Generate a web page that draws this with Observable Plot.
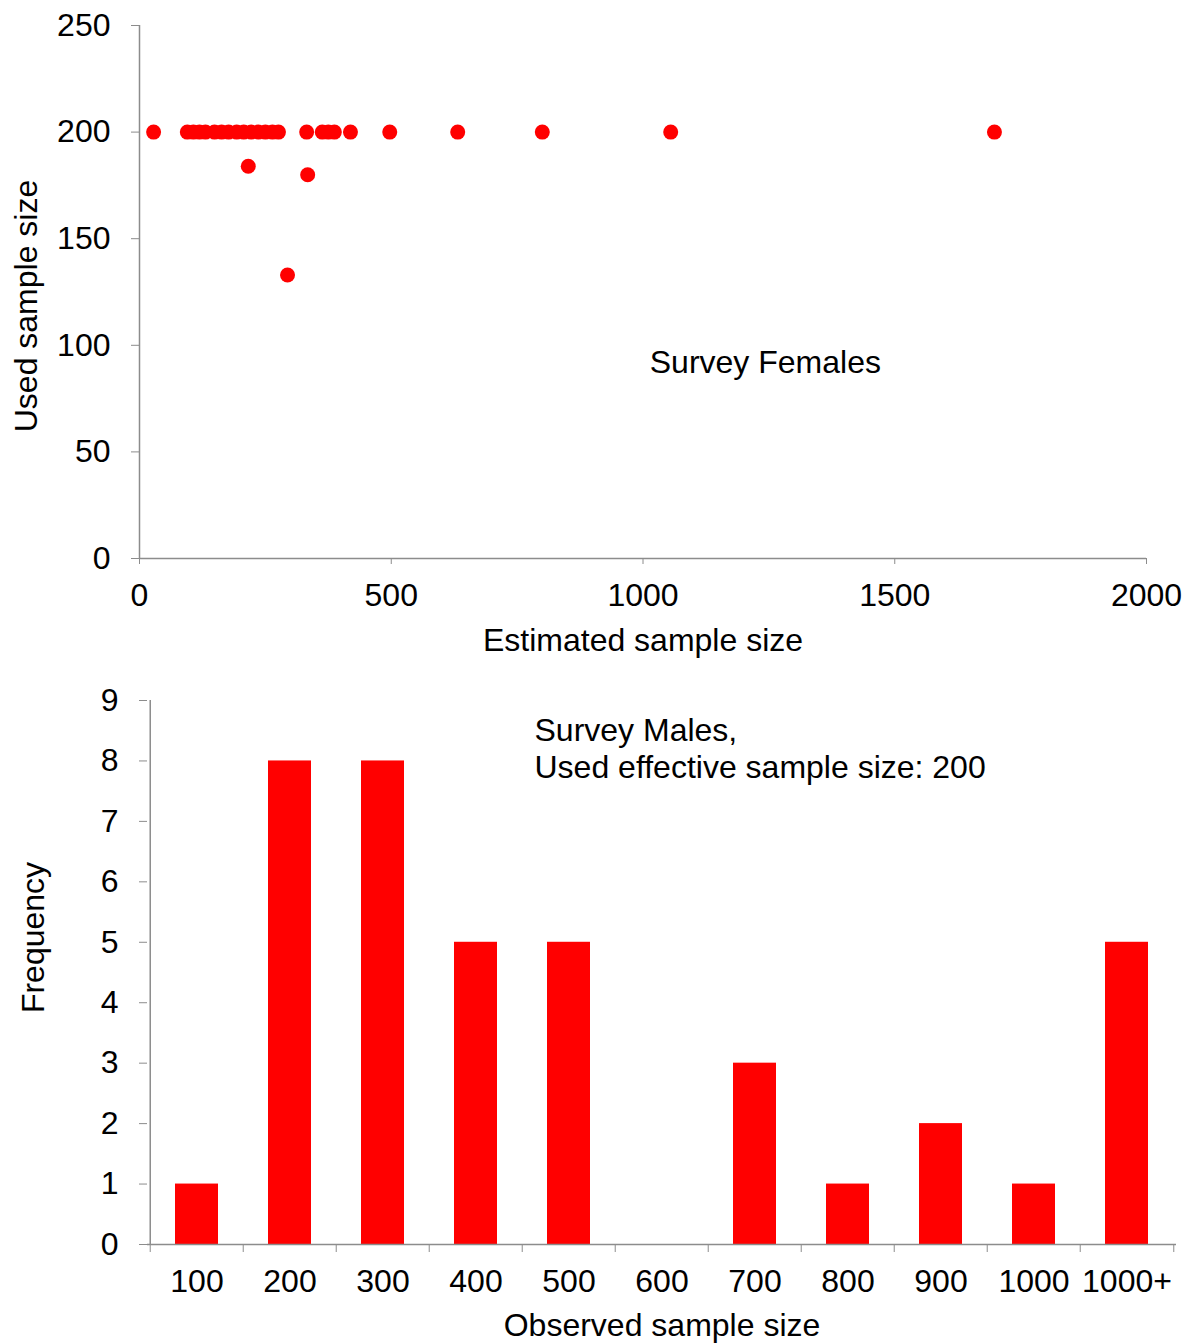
<!DOCTYPE html>
<html>
<head>
<meta charset="utf-8">
<script src="https://cdn.jsdelivr.net/npm/d3@7"></script>
<script src="https://cdn.jsdelivr.net/npm/@observablehq/plot@0.6"></script>
<style>
  html, body { margin: 0; padding: 0; background: #ffffff; }
  #chart { width: 1188px; }
  #chart svg { display: block; }
</style>
</head>
<body>
<div id="chart"></div>
<script>
// ---- Top panel: Survey Females (scatter) ----
const femalesEstimated = [28, 95, 107, 119, 131, 149, 163, 177, 193, 207, 222, 236, 250, 264, 276,
                          332, 363, 375, 387, 419, 497, 632, 800, 1055, 1698, 216, 334, 294];
const femalesUsed      = [200, 200, 200, 200, 200, 200, 200, 200, 200, 200, 200, 200, 200, 200, 200,
                          200, 200, 200, 200, 200, 200, 200, 200, 200, 200, 184, 180, 133];
const topXTicks = [0, 500, 1000, 1500, 2000];
const topYTicks = [0, 50, 100, 150, 200, 250];
const topLabelX = "Estimated sample size";
const topLabelY = "Used sample size";
const topNote = "Survey Females";
const topNoteX = [1243];
const topNoteY = [92];

// ---- Bottom panel: Survey Males (histogram) ----
const maleBins = ["100", "200", "300", "400", "500", "600", "700", "800", "900", "1000", "1000+"];
const maleFreq = [1, 8, 8, 5, 5, 0, 3, 1, 2, 1, 5];
const bottomYTicks = [0, 1, 2, 3, 4, 5, 6, 7, 8, 9];
const bottomLabelX = "Observed sample size";
const bottomLabelY = "Frequency";
const bottomNote1 = "Survey Males,";
const bottomNote2 = "Used effective sample size: 200";

const RED = "#ff0000";
const AXIS = "#8c8c8c";
const FONT = "'Liberation Sans', Arial, sans-serif";
const FS = 32;

const females = femalesEstimated.map((x, i) => ({x, y: femalesUsed[i]}));
const males = maleBins.map((b, i) => ({bin: b, n: maleFreq[i]}));

const topChart = Plot.plot({
  width: 1188, height: 665,
  marginLeft: 139, marginRight: 42, marginTop: 25, marginBottom: 107,
  style: {fontFamily: FONT, fontSize: FS + "px", color: "#000", background: "#fff", overflow: "visible"},
  x: {domain: [0, 2000]},
  y: {domain: [0, 250]},
  marks: [
    Plot.ruleX([0], {stroke: AXIS, strokeWidth: 1.5}),
    Plot.ruleY([0], {stroke: AXIS, strokeWidth: 1.5}),
    Plot.axisX({ticks: topXTicks, tickSize: 6, tickPadding: 19, stroke: AXIS, tickFormat: d => String(d), label: null, fontSize: FS}),
    Plot.axisY({ticks: topYTicks, tickSize: 8, tickPadding: 21, stroke: AXIS, tickFormat: d => String(d), label: null, fontSize: FS}),
    Plot.dot(females, {x: "x", y: "y", r: 7.5, fill: RED, stroke: "none"}),
    Plot.text([topNote], {x: () => topNoteX[0], y: () => topNoteY[0], text: d => d, fontSize: FS, fill: "#000"}),
    Plot.text([topLabelX], {frameAnchor: "bottom", text: d => d, lineAnchor: "middle", dy: 82, fontSize: FS, fill: "#000"}),
    Plot.text([topLabelY], {frameAnchor: "left", text: d => d, textAnchor: "middle", lineAnchor: "middle", rotate: -90, dx: -113, dy: 14, fontSize: FS, fill: "#000"})
  ]
});

const step = (1188 - 12 - 147) / maleBins.length;

const bottomChart = Plot.plot({
  width: 1188, height: 678,
  marginLeft: 147, marginRight: 12, marginTop: 35, marginBottom: 99,
  style: {fontFamily: FONT, fontSize: FS + "px", color: "#000", background: "#fff", overflow: "visible"},
  x: {type: "band", domain: maleBins, paddingInner: 0.54, paddingOuter: 0.27, align: 0.5},
  y: {domain: [0, 9]},
  marks: [
    Plot.barY(males, {x: "bin", y: "n", fill: RED}),
    Plot.ruleY([0], {stroke: AXIS, strokeWidth: 1.5}),
    Plot.ruleX([maleBins[0]], {dx: -step / 2, stroke: AXIS, strokeWidth: 1.5}),
    Plot.axisX({ticks: maleBins, tickSize: 8, tickFormat: () => "", dx: -step / 2, stroke: AXIS, label: null}),
    Plot.axisX({ticks: [maleBins[maleBins.length - 1]], tickSize: 8, tickFormat: () => "", dx: step / 2, stroke: AXIS, label: null}),
    Plot.axisX({ticks: maleBins, tickSize: 0, tickPadding: 25, label: null, fontSize: FS}),
    Plot.axisY({ticks: bottomYTicks, tickSize: 8, tickPadding: 21, stroke: AXIS, label: null, fontSize: FS}),
    Plot.text([bottomNote1], {frameAnchor: "top-left", text: d => d, textAnchor: "start", lineAnchor: "middle", dx: 387, dy: 30, fontSize: FS, fill: "#000"}),
    Plot.text([bottomNote2], {frameAnchor: "top-left", text: d => d, textAnchor: "start", lineAnchor: "middle", dx: 387, dy: 67, fontSize: FS, fill: "#000"}),
    Plot.text([bottomLabelX], {frameAnchor: "bottom", text: d => d, lineAnchor: "middle", dy: 81, fontSize: FS, fill: "#000"}),
    Plot.text([bottomLabelY], {frameAnchor: "left", text: d => d, textAnchor: "middle", lineAnchor: "middle", rotate: -90, dx: -114, dy: -35, fontSize: FS, fill: "#000"})
  ]
});

document.getElementById("chart").append(topChart, bottomChart);
</script>
</body>
</html>
